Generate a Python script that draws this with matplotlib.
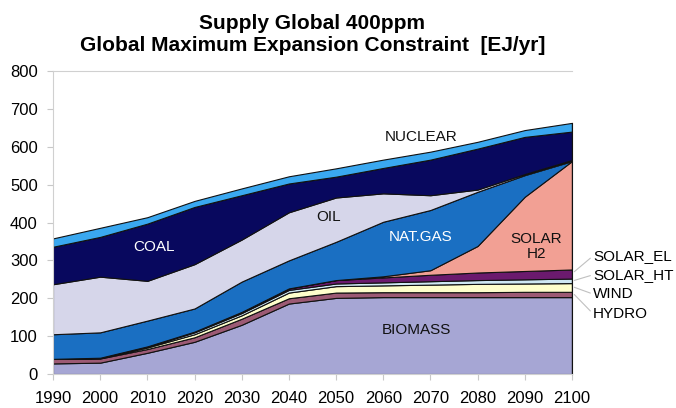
import matplotlib.pyplot as plt
import numpy as np

plt.rcParams['font.family'] = ['Liberation Sans', 'DejaVu Sans']

years = [1990, 2000, 2010, 2020, 2030, 2040, 2050, 2060, 2070, 2080, 2090, 2100]

# EJ/yr per source, stacked bottom to top
biomass  = [28, 30, 56, 85, 130, 186, 201, 203, 203, 203, 203, 203]
hydro    = [12, 11, 10, 12, 16, 14, 14, 13, 13, 13, 14, 14]
wind     = [0, 1, 4, 8, 9, 15, 17, 18, 20, 22, 22, 23]
solar_ht = [0, 1, 2, 5, 6, 7, 7, 8, 9, 10, 11, 12]
solar_el = [0, 0, 1, 2, 3, 4, 9, 13, 17, 20, 22, 24]
solar_h2 = [0, 0, 0, 0, 0, 0, 0, 3, 12, 70, 196, 286]
natgas   = [65, 67, 68, 61, 80, 74, 101, 144, 159, 143, 57, 0]
oil      = [132, 147, 105, 117, 111, 127, 117, 75, 39, 6, 3, 3]
coal     = [99, 105, 151, 151, 117, 76, 55, 67, 94, 108, 98, 75]
nuclear  = [22, 24, 17, 16, 18, 19, 22, 22, 21, 18, 18, 23]

layers = [biomass, hydro, wind, solar_ht, solar_el, solar_h2, natgas, oil, coal, nuclear]
colors = ['#a6a6d4', '#9c5a74', '#ffffcc', '#cfe8f4', '#6b1a6e',
          '#f2a094', '#1a6fc2', '#d6d6ea', '#08085e', '#3aa8f0']

fig = plt.figure(figsize=(6.76, 4.08), dpi=100)
ax = fig.add_axes([0.0784, 0.0833, 0.7676, 0.7427])

ax.stackplot(years, *layers, colors=colors, edgecolor='#111111', linewidth=0.8)

ax.set_xlim(1990, 2100)
ax.set_ylim(0, 800)
ax.set_xticks(years)
ax.set_yticks(np.arange(0, 801, 100))
ax.tick_params(labelsize=12, color='#c8c8c8', length=4, width=0.8)
ax.tick_params(axis='x', pad=8)
ax.tick_params(axis='y', pad=7)
for s in ax.spines.values():
    s.set_color('#d0d0d0')
    s.set_linewidth(0.8)
ax.spines['right'].set_color('#111111')
ax.spines['right'].set_bounds(0, sum(l[-1] for l in layers))

fig.suptitle('Supply Global 400ppm\nGlobal Maximum Expansion Constraint  [EJ/yr]',
             fontsize=15, fontweight='bold', y=0.965, x=0.462, linespacing=1.2)

# labels inside the areas
ax.text(2011.5, 335, 'COAL', color='white', fontsize=11, ha='center', va='center')
ax.text(2048.5, 414, 'OIL', color='#111111', fontsize=11, ha='center', va='center')
ax.text(2068, 361, 'NAT.GAS', color='white', fontsize=11, ha='center', va='center')
ax.text(2092.5, 336, 'SOLAR\nH2', color='#111111', fontsize=11, ha='center', va='center',
        linespacing=1.1)
ax.text(2068, 625, 'NUCLEAR', color='#111111', fontsize=11, ha='center', va='center')
ax.text(2067, 116, 'BIOMASS', color='#111111', fontsize=11, ha='center', va='center')

# right-hand labels with leader lines
top = np.cumsum([l[-1] for l in layers])
side = [('SOLAR_EL', top[4] - 6, 312), ('SOLAR_HT', top[3] - 5, 262),
        ('WIND', top[2] - 11, 211), ('HYDRO', top[1] - 7, 159)]
for name, y0, y1 in side:
    ax.annotate(name, xy=(2100.5, y0), xytext=(2104.5, y1), fontsize=11,
                va='center', ha='left', annotation_clip=False,
                arrowprops=dict(arrowstyle='-', color='#c0c0c0', lw=0.8,
                                shrinkA=0, shrinkB=0, relpos=(0, 0.5)))

fig.savefig('out.png', dpi=100)
